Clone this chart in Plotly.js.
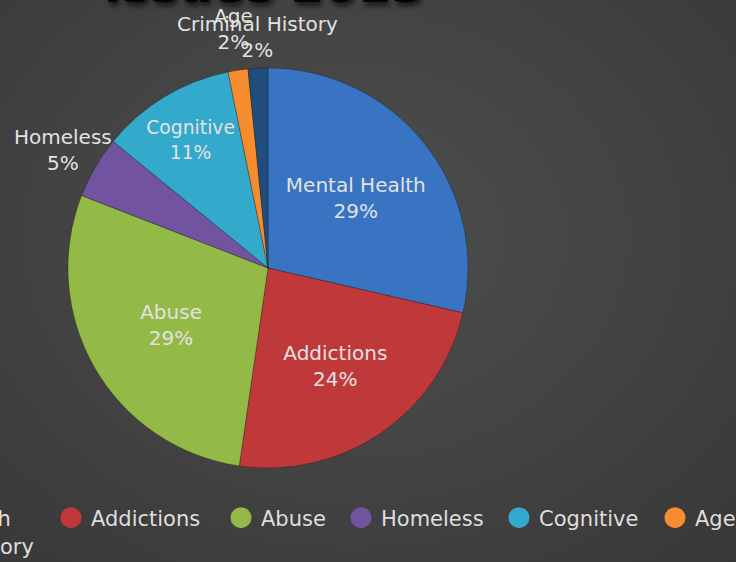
<!DOCTYPE html>
<html>
<head>
<meta charset="utf-8">
<script src="https://cdn.plot.ly/plotly-3.0.1.min.js"></script>
<style>
  html, body { margin: 0; padding: 0; }
  body {
    width: 736px; height: 562px; overflow: hidden;
    background: radial-gradient(ellipse 80% 85% at 48% 42%, #4e4e4e 0%, #444444 45%, #363636 100%);
  }
  #chart { width: 736px; height: 562px; }
</style>
</head>
<body>
<div id="chart"></div>
<script>
const chartTitle = "Issues 2013";
const categories = ["Mental Health", "Addictions", "Abuse", "Homeless", "Cognitive", "Age", "Criminal History"];
const values = [28.6, 23.7, 28.6, 5.0, 10.9, 1.6, 1.6];
const colors = ["#3874c2", "#c0393a", "#93b947", "#7153a0", "#33a9cc", "#f58d2e", "#214d7d"];
const textPositions = ["inside", "inside", "inside", "none", "inside", "none", "none"];

const FONT = "DejaVu Sans, Verdana, sans-serif";
const W = 736, H = 562;
const TEXT_COLOR = "#e2e2e2";

// outside label placement (pixel centres) for slices whose labels sit outside the pie
const outsideLabelPlace = { 3: [63, 150], 5: [233, 29], 6: [257, 37] };

// legend entry placement: [pixel x, anchor, pixel row centre]
const legendPlace = [
  [16, "right", 518], [51, "left", 518], [221, "left", 518], [341, "left", 518],
  [499, "left", 518], [655, "left", 518], [39, "right", 546]
];

const total = values.reduce((a, b) => a + b, 0);

const traces = [{
  type: "pie",
  labels: categories,
  values: values,
  sort: false,
  direction: "clockwise",
  rotation: 0,
  marker: { colors: colors, line: { color: "rgba(0,0,0,0.25)", width: 1 } },
  texttemplate: "%{label}<br>%{percent:.0%}",
  textposition: textPositions,
  insidetextorientation: "horizontal",
  insidetextfont: { family: FONT, size: 20, color: TEXT_COLOR },
  domain: { x: [68 / W, 468 / W], y: [1 - 468 / H, 1 - 68 / H] },
  showlegend: false,
  hoverinfo: "label+percent"
}];

categories.forEach((c, i) => {
  traces.push({
    type: "scatter",
    mode: "markers",
    x: [null], y: [null],
    name: c,
    marker: { color: colors[i], size: 16, symbol: "circle", line: { color: colors[i], width: 5 } },
    showlegend: true,
    legend: i === 0 ? "legend" : "legend" + (i + 1),
    hoverinfo: "skip"
  });
});

const annotations = Object.keys(outsideLabelPlace).map(k => {
  const i = +k;
  const p = outsideLabelPlace[k];
  return {
    xref: "paper", yref: "paper",
    x: p[0] / W, y: 1 - p[1] / H,
    xanchor: "center", yanchor: "middle",
    showarrow: false,
    text: categories[i] + "<br>" + Math.round(values[i] / total * 100) + "%",
    font: { family: FONT, size: 20, color: TEXT_COLOR }
  };
});

const layout = {
  width: W, height: H,
  margin: { l: 0, r: 0, t: 0, b: 0, autoexpand: false },
  paper_bgcolor: "rgba(0,0,0,0)",
  plot_bgcolor: "rgba(0,0,0,0)",
  xaxis: { visible: false },
  yaxis: { visible: false },
  title: {
    text: chartTitle,
    xref: "container", yref: "container",
    x: 264 / W, xanchor: "center",
    y: 1 - 2 / H, yanchor: "bottom",
    font: { family: FONT, size: 48, color: "#050505", weight: "bold",
            shadow: "2px 4px 5px rgba(0,0,0,0.6)" }
  },
  annotations: annotations,
  showlegend: true
};

legendPlace.forEach((p, i) => {
  const key = i === 0 ? "legend" : "legend" + (i + 1);
  layout[key] = {
    xref: "container", yref: "container",
    x: p[0] / W, xanchor: p[1],
    y: 1 - p[2] / H, yanchor: "middle",
    orientation: "h",
    bgcolor: "rgba(0,0,0,0)",
    borderwidth: 0,
    font: { family: FONT, size: 21, color: "#dedede" }
  };
});

Plotly.newPlot("chart", traces, layout, { displayModeBar: false, staticPlot: true });
</script>
</body>
</html>
